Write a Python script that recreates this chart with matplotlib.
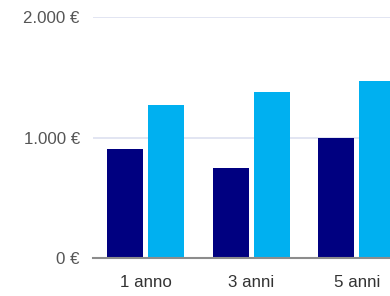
import matplotlib
matplotlib.use("Agg")
import matplotlib.pyplot as plt
import numpy as np

# data
categories = ["1 anno", "3 anni", "5 anni"]
serie_a = [902, 744, 996]      # dark navy
serie_b = [1270, 1375, 1471]   # light blue
yticks = [0, 1000, 2000]
ytick_labels = ["0 €", "1.000 €", "2.000 €"]

plt.rcParams["font.family"] = ["Liberation Sans", "DejaVu Sans"]

fig = plt.figure(figsize=(3.9, 2.96), dpi=100)
# axes runs past the right edge, like the cropped original
ax = fig.add_axes([93 / 390, 38 / 296, 316.5 / 390, 241 / 296])

x = np.arange(len(categories))
w = 0.34
ax.bar(x - 0.195, serie_a, width=w, color="#000080", zorder=3)
ax.bar(x + 0.195, serie_b, width=w, color="#00B0F0", zorder=3)

ax.set_xlim(-0.5, 2.5)
ax.set_ylim(0, 2000)
ax.set_yticks(yticks)
ax.set_yticklabels(ytick_labels)
ax.set_xticks(x)
ax.set_xticklabels(categories)

ax.grid(axis="y", color="#DFE3F1", linewidth=1.3, zorder=0)
for s in ["top", "right", "left"]:
    ax.spines[s].set_visible(False)
ax.spines["bottom"].set_color("#8C8C8C")
ax.spines["bottom"].set_linewidth(1.5)
ax.spines["bottom"].set_zorder(4)

ax.tick_params(axis="y", length=0, pad=9.5, labelsize=12.2, labelcolor="#555555")
ax.tick_params(axis="x", length=0, pad=12.5, labelsize=12.2, labelcolor="#333333")

fig.savefig("out.png", dpi=100)
